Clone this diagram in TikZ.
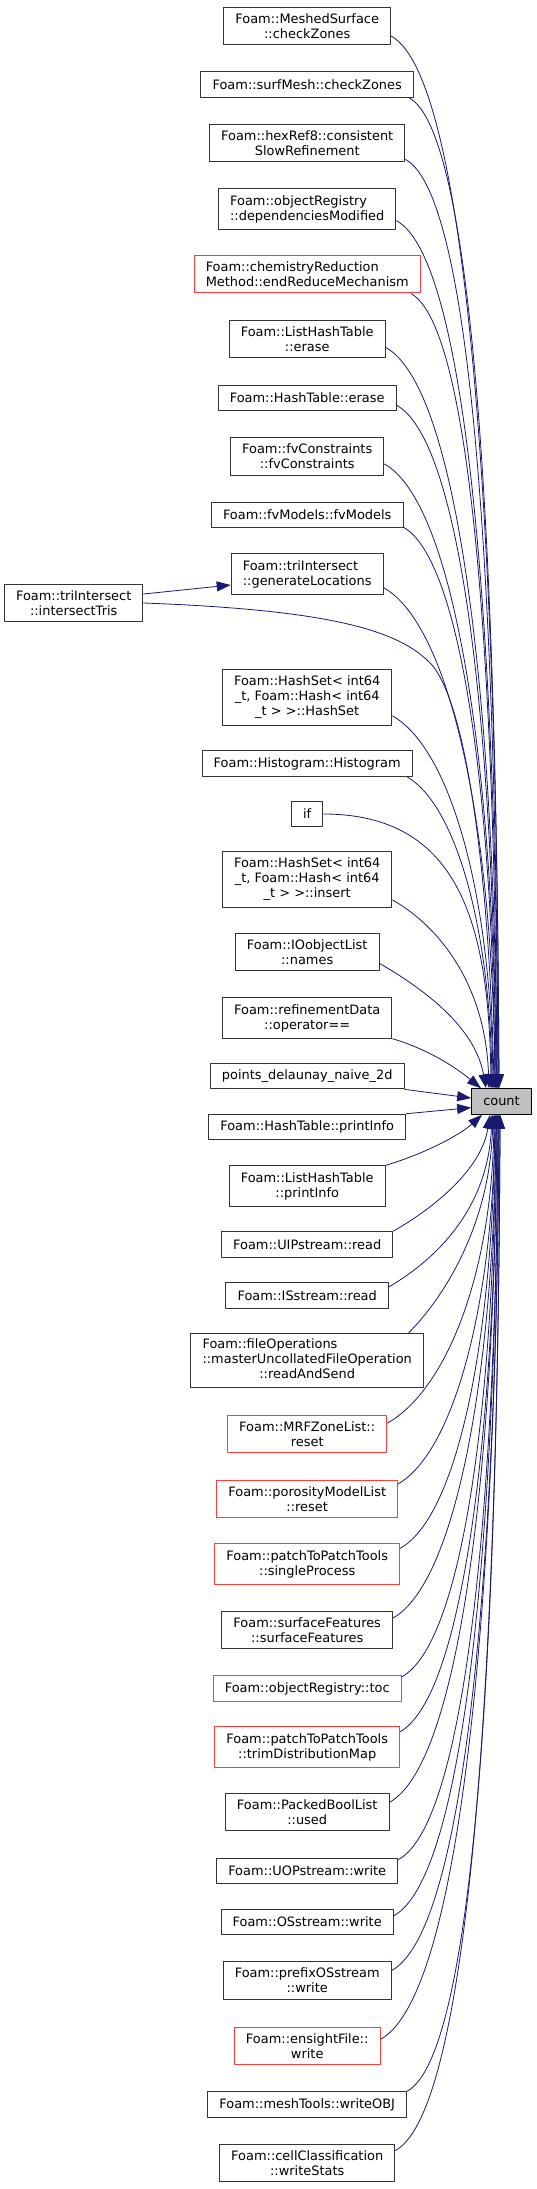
\documentclass[tikz,border=0pt]{standalone}
\usepackage{fontspec}
\setmainfont{DejaVu Sans}
\usetikzlibrary{arrows.meta}
\definecolor{edgeblue}{RGB}{25,25,112}
\definecolor{boxred}{RGB}{255,60,60}

\begin{document}
\begin{tikzpicture}[x=0.75pt,y=-0.75pt,line join=round,
    fn/.style={draw=black!80,line width=0.75pt,fill=white,align=center,
      font=\fontsize{9.7pt}{11.25pt}\selectfont,
      inner xsep=8.7pt,inner ysep=4.8pt,minimum height=19.2pt},
    fnred/.style={fn,draw=boxred},
    cur/.style={fn,draw=black,fill=black!25},
    call/.style={draw=edgeblue,line width=0.6pt,
      -{Triangle[length=10.5pt,width=7.5pt]}}]
  \path[fill=white,use as bounding box] (0,0) rectangle (536,2189);

  % callers above
  \node[fn] (ms) at (307.2,26) {Foam::MeshedSurface\\::checkZones};
  \node[fn] (smz) at (307.2,84.5) {Foam::surfMesh::checkZones};
  \node[fn] (hex) at (307.2,143) {Foam::hexRef8::consistent\\SlowRefinement};
  \node[fn,align=left] (ordep) at (307.2,209) {Foam::objectRegistry\\::dependenciesModified};
  \node[fnred,align=left] (chem) at (307.2,274) {Foam::chemistryReduction\\Method::endReduceMechanism};
  \node[fn] (lhterase) at (307.2,339) {Foam::ListHashTable\\::erase};
  \node[fn] (hterase) at (307.2,398) {Foam::HashTable::erase};
  \node[fn] (fvc) at (307.2,456.5) {Foam::fvConstraints\\::fvConstraints};
  \node[fn] (fvm) at (307.2,515) {Foam::fvModels::fvModels};
  \node[fn,align=left] (gen) at (307.2,574) {Foam::triIntersect\\::generateLocations};
  \node[fn] (tris) at (73.7,603) {Foam::triIntersect\\::intersectTris};
  \node[fn] (hsc) at (307.2,697.5) {Foam::HashSet< int64\\\_t, Foam::Hash< int64\\\_t > >::HashSet};
  \node[fn] (hist) at (307.2,763.5) {Foam::Histogram::Histogram};
  \node[fn] (ifn) at (307.2,814) {if};
  \node[fn] (hsins) at (307.2,879.5) {Foam::HashSet< int64\\\_t, Foam::Hash< int64\\\_t > >::insert};
  \node[fn] (ioo) at (307.2,952) {Foam::IOobjectList\\::names};
  \node[fn] (refd) at (307.2,1018) {Foam::refinementData\\::operator==};
  \node[fn] (pdel) at (307.2,1076) {points\_delaunay\_naive\_2d};

  \node[cur] (count) at (501.5,1101.5) {count};

  % callers below
  \node[fn] (htpi) at (307.2,1127) {Foam::HashTable::printInfo};
  \node[fn] (lhtpi) at (307.2,1186) {Foam::ListHashTable\\::printInfo};
  \node[fn] (uip) at (307.2,1244.5) {Foam::UIPstream::read};
  \node[fn] (iss) at (307.2,1295.5) {Foam::ISstream::read};
  \node[fn,inner ysep=3.5pt] (fops) at (307.2,1360.5) {\begin{tabular}{@{}l@{}}Foam::fileOperations\\::masterUncollatedFileOperation\\\multicolumn{1}{@{}c@{}}{::readAndSend}\end{tabular}};
  \node[fnred] (mrf) at (307.2,1434) {Foam::MRFZoneList::\\reset};
  \node[fnred] (poro) at (307.2,1499) {Foam::porosityModelList\\::reset};
  \node[fnred] (sproc) at (307.2,1564) {Foam::patchToPatchTools\\::singleProcess};
  \node[fn] (sfeat) at (307.2,1630) {Foam::surfaceFeatures\\::surfaceFeatures};
  \node[fnred] (toc) at (307.2,1688.5) {Foam::objectRegistry::toc};
  \node[fnred] (trim) at (307.2,1747) {Foam::patchToPatchTools\\::trimDistributionMap};
  \node[fn] (pbl) at (307.2,1812) {Foam::PackedBoolList\\::used};
  \node[fn] (uop) at (307.2,1871) {Foam::UOPstream::write};
  \node[fn] (oss) at (307.2,1922) {Foam::OSstream::write};
  \node[fn] (pos) at (307.2,1980.5) {Foam::prefixOSstream\\::write};
  \node[fnred] (ens) at (307.2,2046) {Foam::ensightFile::\\write};
  \node[fn] (obj) at (307.2,2104.5) {Foam::meshTools::writeOBJ};
  \node[fn] (cell) at (307.2,2163) {Foam::cellClassification\\::writeStats};

  % calls from above
  \draw[call] ([yshift=7pt]ms.south east) .. controls +(80,43) and +(-2,-526) .. ([xshift=-1.9pt]count.north);
  \draw[call] ([xshift=-3.6pt]smz.south east) .. controls +(68,36) and +(-2,-496) .. ([xshift=-1.9pt]count.north);
  \draw[call] ([yshift=2.25pt]hex.south east) .. controls +(70,37) and +(-2,-464) .. ([xshift=-2.6pt]count.north);
  \draw[call] ([yshift=6.75pt]ordep.south east) .. controls +(73,39) and +(-2,-434) .. ([xshift=-2.6pt]count.north);
  \draw[call] ([xshift=-7.5pt]chem.south east) .. controls +(63,34) and +(-2,-397) .. ([xshift=-3.4pt]count.north);
  \draw[call] ([yshift=8.25pt]lhterase.south east) .. controls +(75,41) and +(-2,-370) .. ([xshift=-3.4pt]count.north);
  \draw[call] ([yshift=4.5pt]hterase.south east) .. controls +(67,37) and +(-2,-342) .. ([xshift=-4.1pt]count.north);
  \draw[call] ([yshift=9pt]fvc.south east) .. controls +(72,40) and +(-2,-312) .. ([xshift=-4.1pt]count.north);
  \draw[call] ([yshift=0.75pt]fvm.south east) .. controls +(59,33) and +(-2,-281) .. ([xshift=-4.9pt]count.north);
  \draw[call] ([yshift=5.25pt]gen.south east) .. controls +(69,39) and +(-2,-251) .. ([xshift=-4.9pt]count.north);
  \draw[call] ([yshift=6.75pt]tris.east) -- ([yshift=-8.25pt]gen.west);
  \draw[call] (tris.east) .. controls (330,610) and (400,630) .. (432,665)
    .. controls (470,710) and (490,900) .. ([xshift=-5.6pt]count.north);
  \draw[call] ([yshift=7.5pt]hsc.south east) .. controls +(60,34) and +(-2,-187) .. ([xshift=-6.4pt]count.north);
  \draw[call] ([xshift=-4.3pt]hist.south east) .. controls +(50,29) and +(-2,-156) .. ([xshift=-7.1pt]count.north);
  \draw[call] (ifn.east) .. controls +(133,0) and +(-2,-169) .. ([xshift=-7.9pt]count.north);
  \draw[call] ([yshift=6pt]hsins.south east) .. controls +(54,31) and +(-3,-95) .. ([xshift=-9.4pt]count.north);
  \draw[call] ([yshift=6pt]ioo.south east) .. controls +(57,33) and +(-10,-55) .. ([xshift=-11.6pt]count.north);
  \draw[call] (refd.south east) .. controls +(40,12) and +(-22,-18) .. ([xshift=-15.4pt]count.north);
  \draw[call] (pdel.south east) -- ([yshift=2.6pt]count.west);

  % calls from below
  \draw[call] (htpi.north east) -- ([yshift=-4.6pt]count.west);
  \draw[call] (lhtpi.north east) .. controls +(40,-12) and +(-22,20) .. ([xshift=-14.6pt]count.south);
  \draw[call] (uip.north east) .. controls +(50,-29) and +(-8,50) .. ([xshift=-8.6pt]count.south);
  \draw[call] ([yshift=-3.5pt]iss.north east) .. controls +(56,-33) and +(-4,87) .. ([xshift=-7.1pt]count.south);
  \draw[call] ([xshift=-11.5pt]fops.north east) .. controls +(35,-35) and +(-3,110) .. ([xshift=-6.4pt]count.south);
  \draw[call] ([yshift=-6.5pt]mrf.north east) .. controls +(61,-35) and +(-2,155) .. ([xshift=-5.6pt]count.south);
  \draw[call] ([yshift=-3.25pt]poro.north east) .. controls +(57,-33) and +(-2,185) .. ([xshift=-4.9pt]count.south);
  \draw[call] ([yshift=-3.75pt]sproc.north east) .. controls +(59,-33) and +(-2,218) .. ([xshift=-4.9pt]count.south);
  \draw[call] ([yshift=-5.5pt]sfeat.north east) .. controls +(64,-36) and +(-2,252) .. ([xshift=-4.1pt]count.south);
  \draw[call] ([yshift=-1.25pt]toc.north east) .. controls +(62,-34) and +(-2,282) .. ([xshift=-4.1pt]count.south);
  \draw[call] ([yshift=-4pt]trim.north east) .. controls +(64,-36) and +(-2,309) .. ([xshift=-3.4pt]count.south);
  \draw[call] ([yshift=-7.25pt]pbl.north east) .. controls +(71,-39) and +(-2,344) .. ([xshift=-3.4pt]count.south);
  \draw[call] ([yshift=-1.5pt]uop.north east) .. controls +(69,-37) and +(-2,373) .. ([xshift=-2.6pt]count.south);
  \draw[call] ([yshift=-5.25pt]oss.north east) .. controls +(73,-40) and +(-2,401) .. ([xshift=-2.6pt]count.south);
  \draw[call] ([yshift=-7pt]pos.north east) .. controls +(76,-41) and +(-2,428) .. ([xshift=-1.9pt]count.south);
  \draw[call] ([yshift=-9.5pt]ens.north east) .. controls +(83,-45) and +(-2,462) .. ([xshift=-1.9pt]count.south);
  \draw[call] (obj.north east) .. controls +(71,-38) and +(-2,489) .. ([xshift=-1.1pt]count.south);
  \draw[call] ([yshift=-5.25pt]cell.north east) .. controls +(78,-42) and +(-2,518) .. ([xshift=-1.1pt]count.south);
\end{tikzpicture}
\end{document}
